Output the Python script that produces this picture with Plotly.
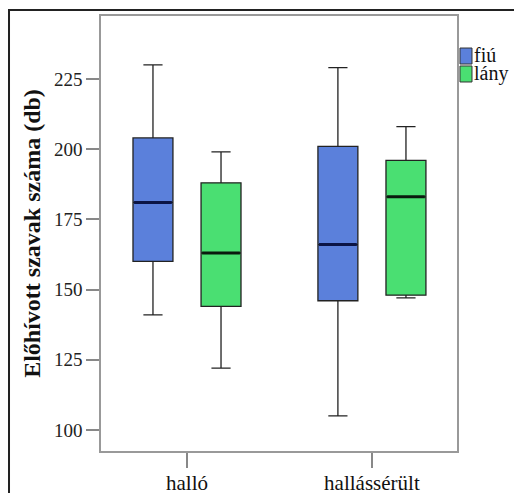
import plotly.graph_objects as go

# Recalled-word counts (db), five-number summaries per group and sex
groups = ["halló", "hallássérült"]
series = ["fiú", "lány"]
colors = ["#5B80DB", "#4ADF72"]
median_colors = ["#0B1445", "#0A1A0E"]

lower = {"fiú": [141, 105], "lány": [122, 147]}
q1 = {"fiú": [160, 146], "lány": [144, 148]}
median = {"fiú": [181, 166], "lány": [163, 183]}
q3 = {"fiú": [204, 201], "lány": [188, 196]}
upper = {"fiú": [230, 229], "lány": [199, 208]}

y_ticks = [100, 125, 150, 175, 200, 225]

serif = "Liberation Serif"
box_w = 0.216
offsets = [-0.184, 0.184]

fig = go.Figure()
for s, name in enumerate(series):
    xs = [i + offsets[s] for i in range(len(groups))]
    fig.add_trace(go.Box(
        name=name,
        x=xs,
        q1=q1[name], median=median[name], q3=q3[name],
        lowerfence=lower[name], upperfence=upper[name],
        width=box_w,
        whiskerwidth=0.48,
        fillcolor=colors[s],
        line=dict(color="#222222", width=1.3),
        marker=dict(color=colors[s]),
        boxpoints=False,
        hoverinfo="skip",
        showlegend=False,
    ))
    # heavier median bar drawn over each box
    for i, x in enumerate(xs):
        fig.add_trace(go.Scatter(
            x=[x - box_w / 2 + 0.006, x + box_w / 2 - 0.006],
            y=[median[name][i], median[name][i]],
            mode="lines",
            line=dict(color=median_colors[s], width=3),
            showlegend=False,
            hoverinfo="skip",
        ))

# legend: colour swatches with names, right of the plot frame
shapes = [dict(
    type="rect", xref="paper", yref="paper",
    x0=-0.2584, x1=1.3, y0=-0.2, y1=1.0138,
    line=dict(color="#222222", width=2), layer="below",
)]
annotations = []
swatch_top = [0.9264, 0.8851]
swatch_h = 0.0368
for s, name in enumerate(series):
    shapes.append(dict(
        type="rect", xref="paper", yref="paper",
        x0=1.0084, x1=1.0421,
        y0=swatch_top[s] - swatch_h, y1=swatch_top[s],
        fillcolor=colors[s], line=dict(color="#333333", width=1),
    ))
    annotations.append(dict(
        text=name, xref="paper", yref="paper",
        x=1.0450, y=swatch_top[s] - swatch_h / 2 + 0.002,
        xanchor="left", yanchor="middle", showarrow=False,
        borderpad=0,
        font=dict(family=serif, size=20, color="#111111"),
    ))

fig.update_layout(
    width=514, height=493, autosize=False,
    margin=dict(l=101, r=57, t=16, b=42, autoexpand=False),
    paper_bgcolor="white", plot_bgcolor="white",
    font=dict(family=serif, size=19, color="#111111"),
    showlegend=False,
    shapes=shapes,
    annotations=annotations,
)

fig.update_xaxes(
    range=[-0.465, 1.46], automargin=False,
    tickmode="array", tickvals=list(range(len(groups))), ticktext=groups,
    ticks="outside", ticklen=15, tickcolor="#888888", tickwidth=1.5,
    showline=True, linecolor="#999999", linewidth=1.5, mirror=True,
    showgrid=False, zeroline=False,
    tickfont=dict(family=serif, size=21, color="#111111"),
    ticklabelstandoff=-3,
)
fig.update_yaxes(
    range=[92.5, 247.4], automargin=False,
    tickmode="array", tickvals=y_ticks,
    ticks="outside", ticklen=13, tickcolor="#888888", tickwidth=1.5,
    showline=True, linecolor="#999999", linewidth=1.5, mirror=True,
    showgrid=False, zeroline=False,
    tickfont=dict(family=serif, size=19, color="#222222"),
    title=dict(text="<b>Előhívott szavak száma (db)</b>",
               font=dict(family=serif, size=24, color="#111111"),
               standoff=7),
)

fig.write_html("out.html")
